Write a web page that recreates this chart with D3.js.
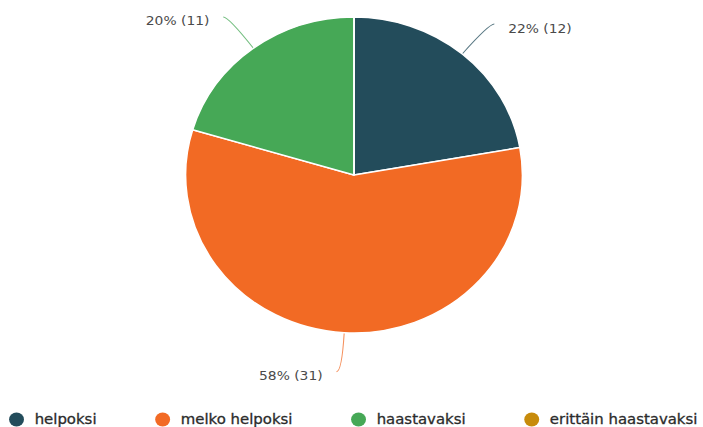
<!DOCTYPE html>
<html>
<head>
<meta charset="utf-8">
<script src="https://cdn.jsdelivr.net/npm/d3@7"></script>
<style>
  body { margin: 0; background: #fff; }
  svg { display: block; }
</style>
</head>
<body>
<div id="chart"></div>
<script>
const categories = ['helpoksi', 'melko helpoksi', 'haastavaksi', 'erittäin haastavaksi']
const counts = [12, 31, 11, 0]
const percents = [22, 58, 20, 0]
const colors = ['#234c5b', '#f26a24', '#46a856', '#c78b0b']

const W = 703
const H = 427
// the original chart is a little stretched sideways
const sx = 1.066
const cx = 354 / sx
const cy = 175
const r = 158
const labelDist = 39

const svg = d3.select('#chart')
  .append('svg')
  .attr('width', W)
  .attr('height', H)

const root = svg.append('g')
  .attr('transform', `scale(${sx},1)`)

const data = categories.map((c, i) => ({ name: c, count: counts[i], pct: percents[i], color: colors[i] }))

const pie = d3.pie().sort(null).value(d => d.count)
const arcs = pie(data)
const arc = d3.arc().innerRadius(0).outerRadius(r)

const g = root.append('g')
  .attr('transform', `translate(${cx},${cy})`)

// connectors + labels
arcs.filter(a => a.data.count > 0).forEach(a => {
  const t = (a.startAngle + a.endAngle) / 2
  const s = Math.sin(t), c = Math.cos(t)
  const side = s >= 0 ? 1 : -1
  const ex = r * s, ey = -r * c
  const endY = -(r + labelDist) * c
  const endX = (r + labelDist) * s + side * 5
  const k = (endY - ey) / (-c)
  const ctrlX = ex + k * s

  const p = d3.path()
  p.moveTo(ex, ey)
  p.quadraticCurveTo(ctrlX, endY, endX, endY)
  g.append('path')
    .attr('d', p.toString())
    .attr('fill', 'none')
    .attr('stroke', a.data.color)
    .attr('stroke-opacity', 0.75)
    .attr('stroke-width', 1)

  g.append('text')
    .attr('x', endX + side * 13)
    .attr('y', endY + 8.5)
    .attr('text-anchor', side > 0 ? 'start' : 'end')
    .style('font-family', 'DejaVu Sans')
    .style('font-size', '13px')
    .style('fill', '#4a4a4a')
    .text(`${a.data.pct}% (${a.data.count})`)
})

g.selectAll('path.slice')
  .data(arcs)
  .enter()
  .append('path')
  .attr('class', 'slice')
  .attr('d', arc)
  .attr('fill', d => d.data.color)
  .attr('stroke', '#fff')
  .attr('stroke-width', 1.5)
  .attr('stroke-linejoin', 'round')

// legend
const leg = root.append('g')
let lx = 8.5
data.forEach(d => {
  const item = leg.append('g').attr('transform', `translate(${lx},0)`)
  item.append('circle')
    .attr('cx', 7)
    .attr('cy', 419.5)
    .attr('r', 7)
    .attr('fill', d.color)
  const txt = item.append('text')
    .attr('x', 24)
    .attr('y', 424.5)
    .style('font-family', 'DejaVu Sans')
    .style('font-size', '14px')
    .style('fill', '#2b2b2b')
    .style('stroke', '#2b2b2b')
    .style('stroke-width', 0.3)
    .text(d.name)
  lx += 24 + txt.node().getComputedTextLength() + 55
})
</script>
</body>
</html>
